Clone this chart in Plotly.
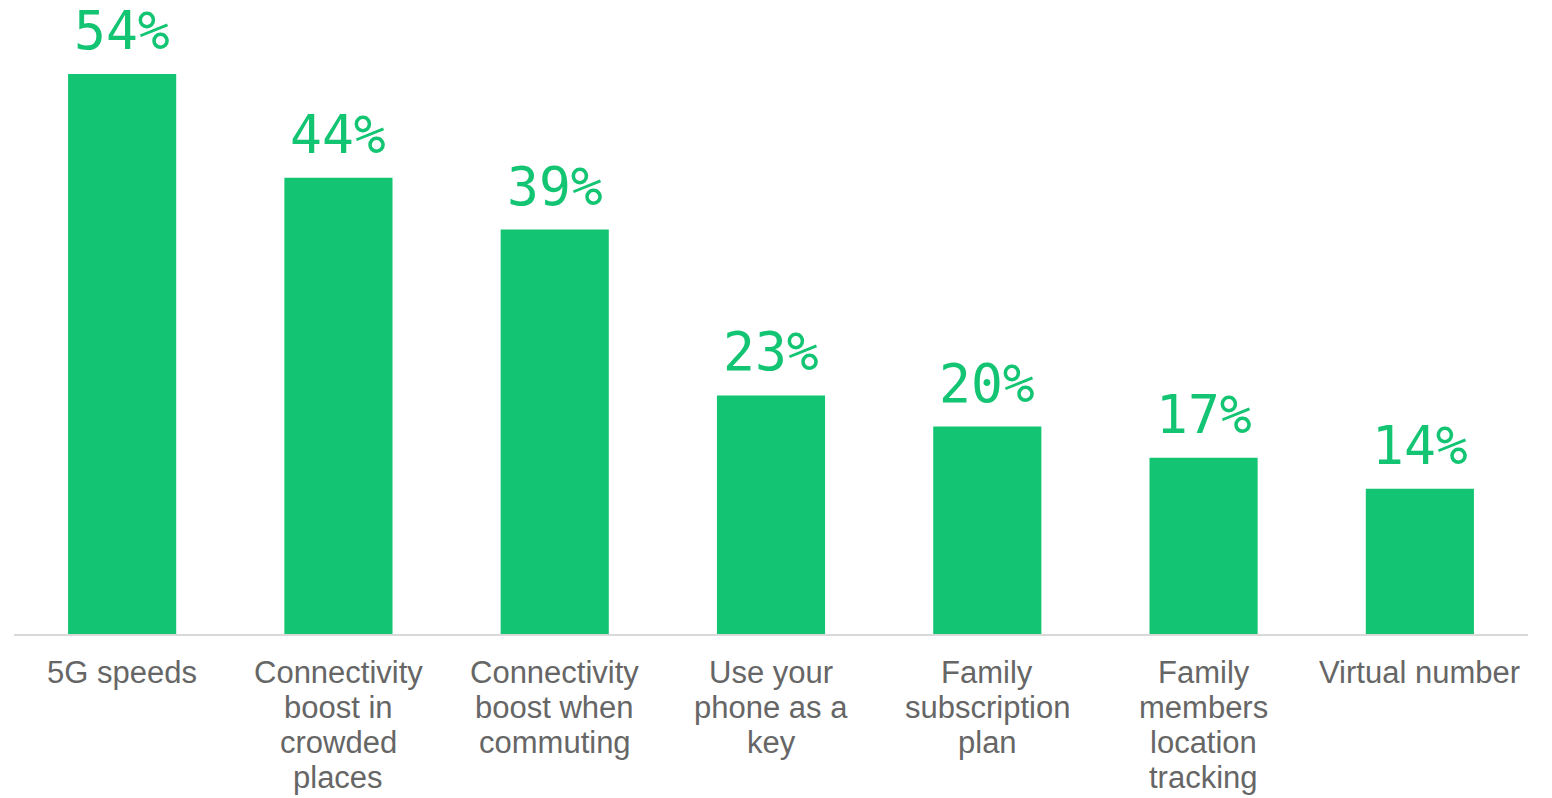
import plotly.graph_objects as go

categories = [
    "5G speeds",
    "Connectivity<br>boost in<br>crowded<br>places",
    "Connectivity<br>boost when<br>commuting",
    "Use your<br>phone as a<br>key",
    "Family<br>subscription<br>plan",
    "Family<br>members<br>location<br>tracking",
    "Virtual number",
]
values = [54, 44, 39, 23, 20, 17, 14]
value_labels = ["54%", "44%", "39%", "23%", "20%", "17%", "14%"]

GREEN = "#13C572"
GREY_TEXT = "#666666"

fig = go.Figure(
    go.Bar(
        x=list(range(len(categories))),
        y=values,
        marker=dict(color=GREEN, line=dict(width=0)),
        width=0.5,
        hoverinfo="skip",
    )
)

# value labels above each bar
for i, (v, t) in enumerate(zip(values, value_labels)):
    fig.add_annotation(
        x=i, y=v, text=t, showarrow=False,
        yanchor="bottom", yshift=11,
        font=dict(family="DejaVu Sans Mono", size=53, color=GREEN),
    )

# category labels under the axis, one line at a time for tight line spacing
for i, cat in enumerate(categories):
    for k, line in enumerate(cat.split("<br>")):
        fig.add_annotation(
            x=i, xref="x", y=0, yref="paper", text=line, showarrow=False,
            yanchor="middle", yshift=-(38 + k * 35),
            font=dict(family="Liberation Sans, Arial", size=31, color=GREY_TEXT),
        )

fig.update_layout(
    width=1552, height=798,
    margin=dict(l=14, r=24, t=20, b=164),
    paper_bgcolor="white", plot_bgcolor="white",
    showlegend=False,
    bargap=0.5,
    xaxis=dict(
        range=[-0.5, len(categories) - 0.5],
        showline=True, linecolor="#D9D9D9", linewidth=2,
        showgrid=False, zeroline=False, ticks="",
        showticklabels=False, automargin=False,
    ),
    yaxis=dict(
        range=[0, 59.2],
        visible=False, showgrid=False, zeroline=False, automargin=False,
    ),
)

fig.write_html("out.html")
